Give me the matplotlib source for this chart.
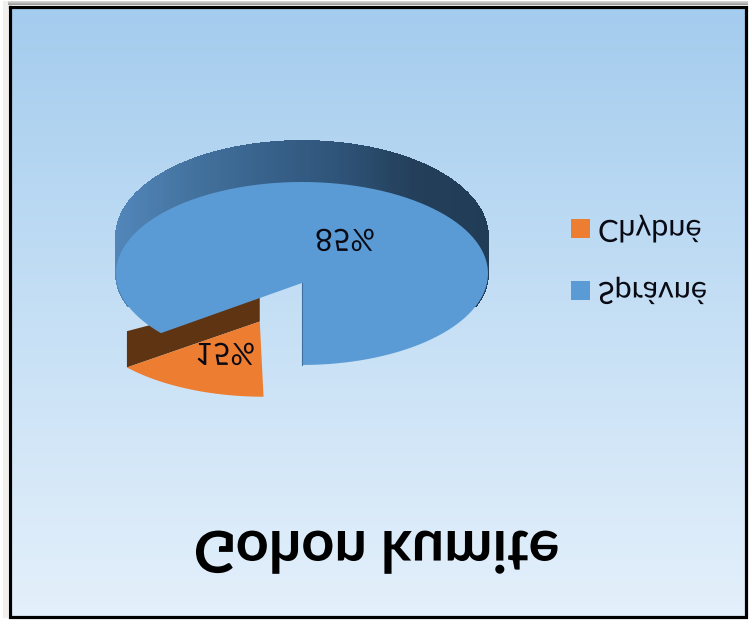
import numpy as np
import matplotlib
matplotlib.use('Agg')
import matplotlib.pyplot as plt
from matplotlib.collections import PolyCollection
from matplotlib.colors import LinearSegmentedColormap
from matplotlib.patheffects import AbstractPathEffect
from matplotlib.transforms import Affine2D

# Data
labels = ['Správné', 'Chybné']
values = [85, 15]
pct_labels = ['85%', '15%']
title = 'Gohon kumite'

# Colours
face_colors = ['#5b9bd5', '#ed7d31']
brown = '#5f3412'
bg_cmap = LinearSegmentedColormap.from_list('bg', ['#a4ccee', '#c5dff5', '#e4f0fb'])
wall_cmap = LinearSegmentedColormap.from_list(
    'wall', ['#5286ba', '#44739f', '#38628c', '#2f5479', '#233f5a', '#213c56'])

plt.rcParams['font.family'] = ['Lato', 'DejaVu Sans']


# The reference is mirrored top to bottom, so the glyphs get flipped on their baseline
class FlipText(AbstractPathEffect):
    def draw_path(self, renderer, gc, tpath, affine, rgbFace=None):
        base = affine.to_values()[5]
        flip = Affine2D().translate(0, -base).scale(1, -1).translate(0, base)
        renderer.draw_path(gc, tpath, affine + flip, rgbFace)


# Pie seen in perspective: angle runs from the bottom, through the right side
apex = np.array([302.0, 283.0])
k = 0.104


def project(u, v):
    w = 1 + k * v
    return apex[0] + 185 * u / w, apex[1] + 90.5 * v / w


def sector(a0, a1, shift=(0.0, 0.0)):
    t = np.radians(np.linspace(a0, a1, 120))
    u = np.r_[0, np.sin(t)] + shift[0]
    v = np.r_[0, np.cos(t)] + shift[1]
    return project(u, v)


fig = plt.figure(figsize=(7.52, 6.26), dpi=100)
ax = fig.add_axes([0, 0, 1, 1])

# frame, shadow and background
grad = np.linspace(0, 1, 256)[:, None]
ax.imshow(np.linspace(0.85, 0.6, 8)[:, None], cmap='gray', vmin=0, vmax=1,
          extent=[8, 748, 5, 1], aspect='auto', zorder=0)
ax.fill_between([3, 8], 1, 618, color='#f1f0ec', lw=0, zorder=0)
ax.imshow(grad, cmap=bg_cmap, extent=[10, 745, 616, 7], aspect='auto', zorder=1)
ax.plot([9.5, 745.5, 745.5, 9.5, 9.5], [6.5, 6.5, 616.5, 616.5, 6.5],
        color='black', lw=2.3, solid_joinstyle='miter', zorder=2)

angle = np.cumsum(values) / np.sum(values) * 360
cut = angle[0]
mid = (cut + 360) / 2
shift = 0.5 * np.array([np.sin(np.radians(mid)), np.cos(np.radians(mid))])
shift[0] -= 0.012

# blue outer wall
t = np.radians(np.linspace(75, 285, 211))
xf, yf = project(np.sin(t), np.cos(t))
yb = yf - (36 - 5 * np.cos(t))
quads = [[(xf[i], yf[i]), (xf[i + 1], yf[i + 1]), (xf[i + 1], yb[i + 1]), (xf[i], yb[i])]
         for i in range(len(t) - 1)]
wall = PolyCollection(quads, array=(xf[:-1] - 117) / 371, cmap=wall_cmap,
                      edgecolors='face', linewidths=0.6, antialiaseds=False, zorder=3)
ax.add_collection(wall)

# brown cut face of the orange slice
c = np.radians(cut)
xa, ya = project(np.array([shift[0], shift[0] + np.sin(c)]),
                 np.array([shift[1], shift[1] + np.cos(c)]))
u_end = np.array([shift[0], shift[0] + np.sin(c)])
depth = 22 - 13.6 * u_end
ax.fill([xa[0], xa[1], xa[1], xa[0]], [ya[0], ya[1], ya[1] - depth[1], ya[0] - depth[0]],
        color=brown, lw=0, zorder=4)

# slice tops
xs, ys = sector(0, cut)
ax.fill(xs, ys, color=face_colors[0], lw=0, zorder=5)
ax.plot(xs[:2], ys[:2], color='#3f6f9f', lw=0.8, zorder=5)
xs, ys = sector(cut, 360, shift)
ax.fill(xs, ys, color=face_colors[1], lw=0, zorder=4.5)

flip = [FlipText()]
ax.text(345, 229, pct_labels[0], fontsize=22, ha='center', va='baseline',
        color='#0a0a14', path_effects=flip, zorder=6)
ax.text(225, 343, pct_labels[1], fontsize=22, ha='center', va='baseline',
        color='#0a0a14', path_effects=flip, zorder=6)

# legend
ax.fill([571, 590, 590, 571], [219, 219, 238, 238], color=face_colors[1], lw=0, zorder=6)
ax.fill([571, 590, 590, 571], [281, 281, 300, 300], color=face_colors[0], lw=0, zorder=6)
ax.text(598, 220, labels[1], fontsize=22, ha='left', va='baseline', color='#0a0a14',
        path_effects=flip, zorder=6)
ax.text(598, 282, labels[0], fontsize=22, ha='left', va='baseline', color='#0a0a14',
        path_effects=flip, zorder=6)

ax.text(376.5, 531, title, fontsize=41.5, fontweight='bold', ha='center', va='baseline',
        color='black', path_effects=flip, zorder=6)

ax.set_xlim(0, 752)
ax.set_ylim(626, 0)
ax.axis('off')
fig.savefig('out.png', dpi=100, facecolor='white')
